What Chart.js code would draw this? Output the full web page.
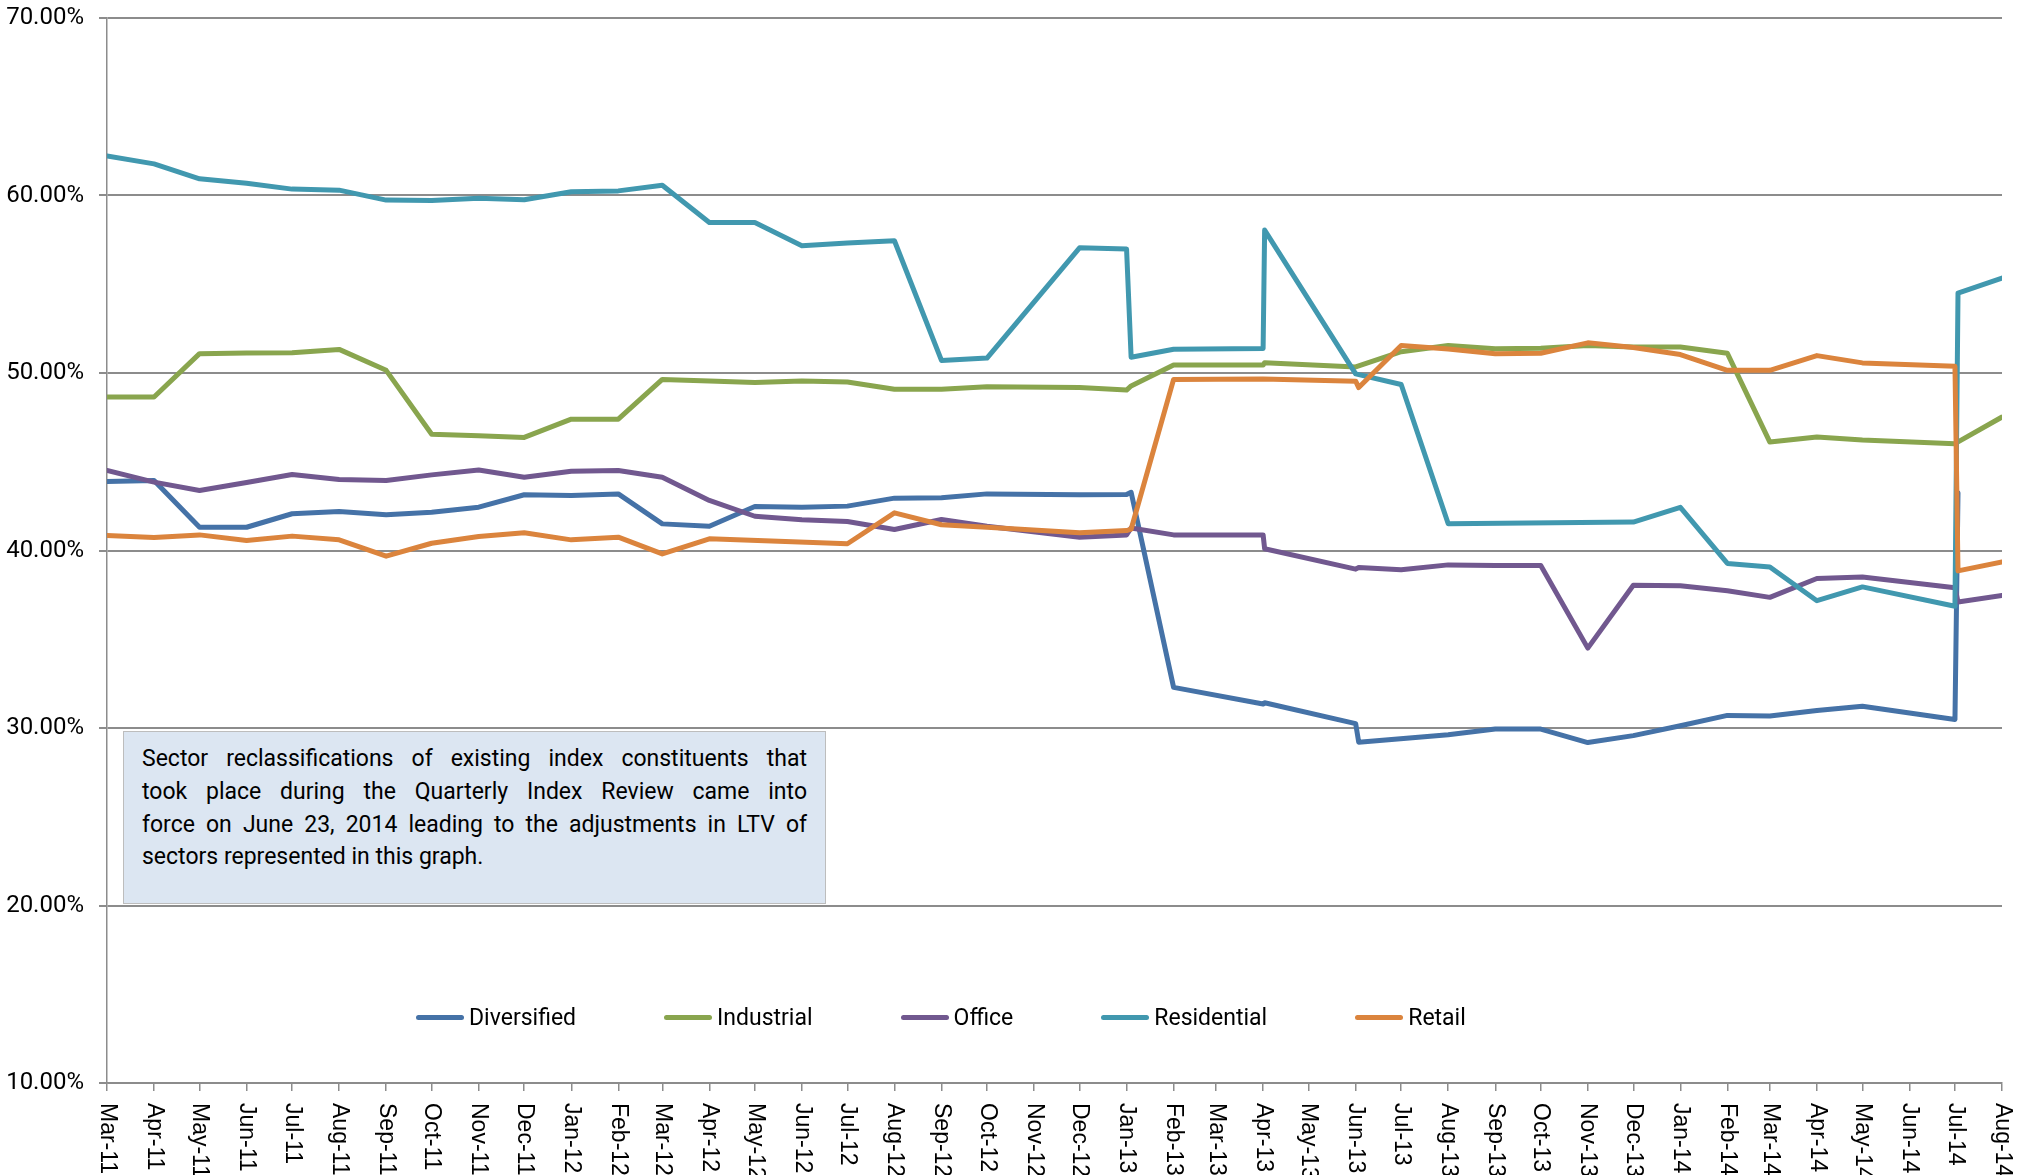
<!DOCTYPE html>
<html>
<head>
<meta charset="utf-8">
<script src="https://cdn.jsdelivr.net/npm/chart.js@4.4.1/dist/chart.umd.min.js"></script>
<style>
html,body{margin:0;padding:0;background:#fff;}
#wrap{position:relative;width:2028px;height:1175px;overflow:hidden;}
#c{position:absolute;left:0;top:0;}
#note{position:absolute;left:123px;top:731px;width:703px;height:173px;box-sizing:border-box;background:#dce6f2;border:1.5px solid #bdbdbd;padding:11px 18px 0 18px;font-family:Roboto,"Open Sans",sans-serif;font-size:23px;line-height:32.8px;color:#000;}
#note .j{text-align:justify;text-align-last:justify;}
#legend{position:absolute;left:416px;top:1000px;height:34px;display:flex;align-items:center;gap:88px;font-family:Roboto,"Open Sans",sans-serif;font-size:23px;color:#000;}
.item{display:flex;align-items:center;white-space:nowrap;}
.swatch{width:48px;height:5px;border-radius:3px;margin-right:5px;}
</style>
</head>
<body>
<div id="wrap">
<canvas id="c" width="2028" height="1175"></canvas>
<div id="note">
<div class="j">Sector reclassifications of existing index constituents that</div>
<div class="j">took place during the Quarterly Index Review came into</div>
<div class="j">force on June 23, 2014 leading to the adjustments in LTV of</div>
<div>sectors represented in this graph.</div>
</div>
<div id="legend"></div>
</div>
<script>
// ---------- DATA ----------
const monthLabels = ["Mar-11","Apr-11","May-11","Jun-11","Jul-11","Aug-11","Sep-11","Oct-11","Nov-11","Dec-11",
"Jan-12","Feb-12","Mar-12","Apr-12","May-12","Jun-12","Jul-12","Aug-12","Sep-12","Oct-12","Nov-12","Dec-12",
"Jan-13","Feb-13","Mar-13","Apr-13","May-13","Jun-13","Jul-13","Aug-13","Sep-13","Oct-13","Nov-13","Dec-13",
"Jan-14","Feb-14","Mar-14","Apr-14","May-14","Jun-14","Jul-14","Aug-14"];

const seriesNames = ["Diversified","Industrial","Office","Residential","Retail"];
const seriesColors = ["#4572A7","#89A54E","#71588F","#4198AF","#DB843D"];

const diversified = [
["2011-03-01",43.89],["2011-04-01",43.94],["2011-05-01",41.31],["2011-06-01",41.31],["2011-07-01",42.07],
["2011-08-01",42.20],["2011-09-01",42.01],["2011-10-01",42.16],["2011-11-01",42.44],["2011-12-01",43.14],
["2012-01-01",43.10],["2012-02-01",43.19],["2012-03-01",41.50],["2012-04-01",41.37],["2012-05-01",42.48],
["2012-06-01",42.44],["2012-07-01",42.50],["2012-08-01",42.95],["2012-09-01",42.97],["2012-10-01",43.19],
["2012-12-01",43.14],["2013-01-01",43.15],["2013-01-04",43.28],["2013-02-01",32.29],["2013-04-01",31.35],
["2013-04-02",31.42],["2013-06-01",30.25],["2013-06-03",29.20],["2013-08-01",29.62],["2013-09-01",29.94],
["2013-10-01",29.94],["2013-11-01",29.18],["2013-12-01",29.57],["2014-01-01",30.13],["2014-02-01",30.71],
["2014-03-01",30.68],["2014-04-01",30.99],["2014-05-01",31.23],["2014-07-01",30.48],["2014-07-03",43.25]];

const industrial = [
["2011-03-01",48.65],["2011-04-01",48.65],["2011-05-01",51.09],["2011-06-01",51.12],["2011-07-01",51.14],
["2011-08-01",51.33],["2011-09-01",50.15],["2011-10-01",46.55],["2011-11-01",46.46],["2011-12-01",46.37],
["2012-01-01",47.40],["2012-02-01",47.40],["2012-03-01",49.64],["2012-04-01",49.55],["2012-05-01",49.46],
["2012-06-01",49.55],["2012-07-01",49.49],["2012-08-01",49.08],["2012-09-01",49.08],["2012-10-01",49.23],
["2012-12-01",49.18],["2013-01-01",49.04],["2013-01-04",49.27],["2013-02-01",50.45],["2013-04-01",50.45],
["2013-04-02",50.58],["2013-06-01",50.34],["2013-07-01",51.20],["2013-08-01",51.55],["2013-09-01",51.37],
["2013-10-01",51.40],["2013-11-01",51.55],["2013-12-01",51.46],["2014-01-01",51.46],["2014-02-01",51.11],
["2014-03-01",46.11],["2014-04-01",46.39],["2014-05-01",46.22],["2014-07-01",46.02],["2014-08-01",47.52]];

const office = [
["2011-03-01",44.51],["2011-04-01",43.85],["2011-05-01",43.38],["2011-06-01",43.83],["2011-07-01",44.28],
["2011-08-01",44.00],["2011-09-01",43.94],["2011-10-01",44.26],["2011-11-01",44.54],["2011-12-01",44.13],
["2012-01-01",44.47],["2012-02-01",44.51],["2012-03-01",44.13],["2012-04-01",42.82],["2012-05-01",41.93],
["2012-06-01",41.73],["2012-07-01",41.63],["2012-08-01",41.18],["2012-09-01",41.75],["2012-10-01",41.37],
["2012-12-01",40.75],["2013-01-01",40.88],["2013-01-04",41.27],["2013-02-01",40.88],["2013-04-01",40.88],
["2013-04-02",40.10],["2013-06-01",38.95],["2013-06-03",39.04],["2013-07-01",38.92],["2013-08-01",39.19],
["2013-09-01",39.16],["2013-10-01",39.16],["2013-11-01",34.50],["2013-12-01",38.04],["2014-01-01",38.02],
["2014-02-01",37.73],["2014-03-01",37.36],["2014-04-01",38.42],["2014-05-01",38.51],["2014-07-01",37.90],
["2014-07-03",37.10],["2014-08-01",37.47]];

const residential = [
["2011-03-01",62.23],["2011-04-01",61.78],["2011-05-01",60.94],["2011-06-01",60.69],["2011-07-01",60.36],
["2011-08-01",60.30],["2011-09-01",59.74],["2011-10-01",59.72],["2011-11-01",59.85],["2011-12-01",59.76],
["2012-01-01",60.21],["2012-02-01",60.26],["2012-03-01",60.58],["2012-04-01",58.48],["2012-05-01",58.48],
["2012-06-01",57.17],["2012-07-01",57.32],["2012-08-01",57.45],["2012-09-01",50.71],["2012-10-01",50.84],
["2012-12-01",57.05],["2013-01-01",56.98],["2013-01-04",50.89],["2013-02-01",51.34],["2013-04-01",51.38],
["2013-04-02",58.05],["2013-06-01",49.95],["2013-07-01",49.35],["2013-08-01",41.51],["2013-12-01",41.60],
["2014-01-01",42.43],["2014-02-01",39.27],["2014-03-01",39.07],["2014-04-01",37.17],["2014-05-01",37.95],
["2014-07-01",36.86],["2014-07-03",54.50],["2014-08-01",55.35]];

const retail = [
["2011-03-01",40.85],["2011-04-01",40.73],["2011-05-01",40.88],["2011-06-01",40.56],["2011-07-01",40.81],
["2011-08-01",40.60],["2011-09-01",39.68],["2011-10-01",40.41],["2011-11-01",40.79],["2011-12-01",41.00],
["2012-01-01",40.60],["2012-02-01",40.75],["2012-03-01",39.81],["2012-04-01",40.66],["2012-07-01",40.38],
["2012-08-01",42.12],["2012-09-01",41.45],["2012-10-01",41.31],["2012-12-01",41.00],["2013-01-01",41.12],
["2013-01-04",41.20],["2013-02-01",49.64],["2013-04-01",49.66],["2013-06-01",49.54],["2013-06-03",49.18],
["2013-07-01",51.55],["2013-08-01",51.35],["2013-09-01",51.08],["2013-10-01",51.11],["2013-11-01",51.70],
["2013-12-01",51.44],["2014-01-01",51.04],["2014-02-01",50.15],["2014-03-01",50.15],["2014-04-01",50.98],
["2014-05-01",50.57],["2014-07-01",50.38],["2014-07-03",38.85],["2014-08-01",39.35]];

const yTickValues = [10,20,30,40,50,60,70];
// ---------- END DATA ----------

const allSeries = [diversified, industrial, office, residential, retail];
const ORIGIN = Date.UTC(2011, 2, 1);
function dayOf(s){ const p = s.split('-').map(Number); return (Date.UTC(p[0], p[1]-1, p[2]) - ORIGIN) / 86400000; }
const MONTHS = {Jan:0,Feb:1,Mar:2,Apr:3,May:4,Jun:5,Jul:6,Aug:7,Sep:8,Oct:9,Nov:10,Dec:11};
const tickDays = monthLabels.map(l => {
  const [m, y] = l.split('-');
  return (Date.UTC(2000 + Number(y), MONTHS[m], 1) - ORIGIN) / 86400000;
});

const xLabelPlugin = {
  id: 'xlabels',
  afterDraw(chart){
    const {ctx, chartArea} = chart;
    const x = chart.scales.x;
    ctx.save();
    ctx.font = '23px "Liberation Sans", Arial, sans-serif';
    ctx.fillStyle = '#000';
    ctx.textAlign = 'left';
    ctx.textBaseline = 'middle';
    monthLabels.forEach((lab, i) => {
      const px = x.getPixelForValue(tickDays[i]);
      ctx.save();
      ctx.translate(px, chartArea.bottom + 20);
      ctx.rotate(Math.PI / 2);
      ctx.fillText(lab, 0, 0);
      ctx.restore();
    });
    ctx.restore();
  }
};

function build(){
  const datasets = allSeries.map((s, i) => ({
    label: seriesNames[i],
    data: s.map(([d, v]) => ({x: dayOf(d), y: v})),
    borderColor: seriesColors[i],
    backgroundColor: seriesColors[i],
    borderWidth: 5,
    pointRadius: 0,
    tension: 0,
    borderCapStyle: 'round',
    borderJoinStyle: 'round',
    order: allSeries.length - 1 - i
  }));

  new Chart(document.getElementById('c'), {
    type: 'line',
    data: {datasets},
    options: {
      responsive: false,
      animation: false,
      devicePixelRatio: 1,
      layout: {padding: {top: 18, right: 26, left: 0, bottom: 0}},
      plugins: {legend: {display: false}, tooltip: {enabled: false}},
      scales: {
        x: {
          type: 'linear',
          min: tickDays[0],
          max: tickDays[tickDays.length - 1],
          afterBuildTicks: s => { s.ticks = tickDays.map(v => ({value: v})); },
          ticks: {display: false},
          grid: {drawOnChartArea: false, drawTicks: true, tickLength: 8, color: '#8c8c8c', lineWidth: 1.5},
          border: {color: '#8c8c8c', width: 1.5},
          afterFit: s => { s.height = 92; s.paddingLeft = 0; s.paddingRight = 0; }
        },
        y: {
          min: yTickValues[0],
          max: yTickValues[yTickValues.length - 1],
          afterBuildTicks: s => { s.ticks = yTickValues.map(v => ({value: v})); },
          ticks: {
            callback: v => Number(v).toFixed(2) + '%',
            font: {family: 'Roboto', size: 24},
            color: '#000',
            padding: 15
          },
          grid: {color: '#8c8c8c', lineWidth: 2, tickLength: 8},
          border: {color: '#8c8c8c', width: 1.5},
          afterFit: s => { s.width = 107; s.paddingTop = 0; s.paddingBottom = 0; }
        }
      }
    },
    plugins: [xLabelPlugin]
  });

  const legend = document.getElementById('legend');
  seriesNames.forEach((n, i) => {
    const it = document.createElement('div'); it.className = 'item';
    const sw = document.createElement('div'); sw.className = 'swatch'; sw.style.background = seriesColors[i];
    const tx = document.createElement('span'); tx.textContent = n;
    it.appendChild(sw); it.appendChild(tx); legend.appendChild(it);
  });
}

Promise.all([
  document.fonts.load('24px Roboto'),
  document.fonts.load('23px "Liberation Sans"')
]).then(build, build);
</script>
</body>
</html>
